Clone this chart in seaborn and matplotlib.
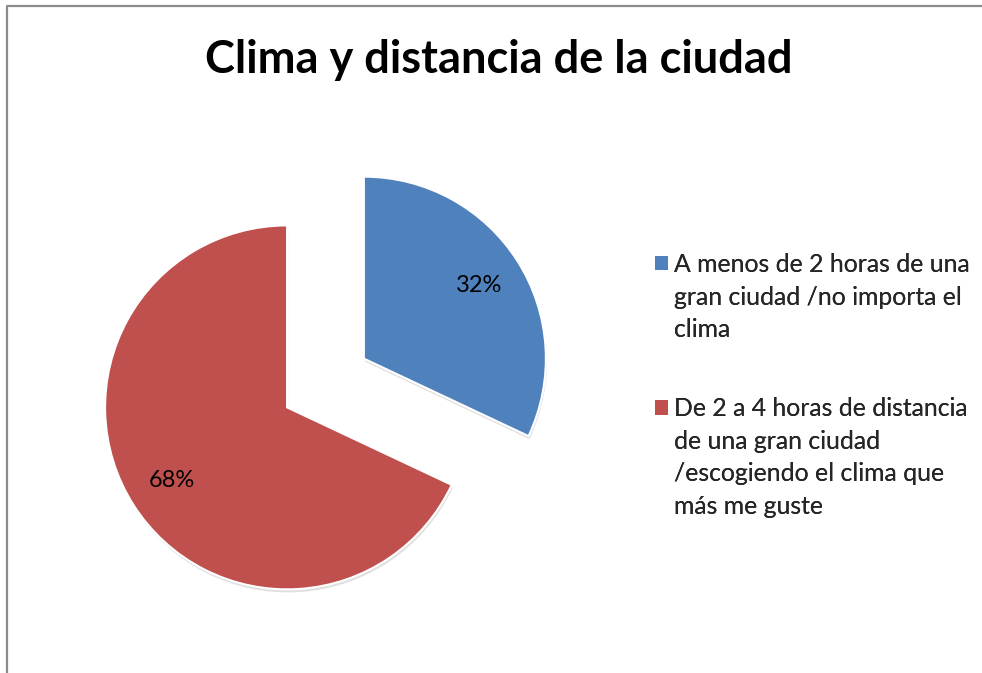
import seaborn as sns
import matplotlib.pyplot as plt
from matplotlib.lines import Line2D
from matplotlib.patches import Patch

sns.set_theme(style='white')
plt.rcParams['font.family'] = ['Lato', 'DejaVu Sans']

categories = ['A menos de 2 horas de una\ngran ciudad /no importa el\nclima',
              'De 2 a 4 horas de distancia\nde una gran ciudad\n/escogiendo el clima que\nmás me guste']
shares = [32, 68]
colors = ['#4F81BD', '#C0504D']

fig = plt.figure(figsize=(9.82, 6.73), dpi=100)
ax = fig.add_axes([0.0998, 0.0929, 0.4633, 0.676])

wedges, texts, autotexts = ax.pie(
    shares, colors=colors, explode=[0.25, 0.25], startangle=90, counterclock=False,
    autopct='%1.0f%%', pctdistance=0.75,
    wedgeprops=dict(edgecolor='white', linewidth=1.5),
    shadow=dict(ox=0.004, oy=-0.012, facecolor='#999999', edgecolor='none', alpha=0.3),
    textprops=dict(fontsize=17, color='black'))

fig.text(0.508, 0.911, 'Clima y distancia de la ciudad', ha='center', va='center',
         fontsize=32.5, fontweight='bold', color='black')

# legend: one block per category, square beside the first line
anchors = [0.624, 0.41]
for cat, col, ytop in zip(categories, colors, anchors):
    lines = cat.split('\n')
    handles = [Patch(facecolor=col, edgecolor='none')] + \
              [Patch(facecolor='none', edgecolor='none') for _ in lines[1:]]
    leg = fig.legend(handles, lines, loc='upper left', bbox_to_anchor=(0.667, ytop),
                     frameon=False, fontsize=17.8, handlelength=0.52, handleheight=0.52,
                     handletextpad=0.25, labelspacing=0.39, borderaxespad=0, borderpad=0)
    fig.add_artist(leg)

# chart area border (left and top edges visible)
fig.add_artist(Line2D([0.0075, 0.0075, 1.0], [0.0, 0.991, 0.991],
                      transform=fig.transFigure, color='#8c8c8c', linewidth=1.6))

fig.savefig('out.png', dpi=100)
